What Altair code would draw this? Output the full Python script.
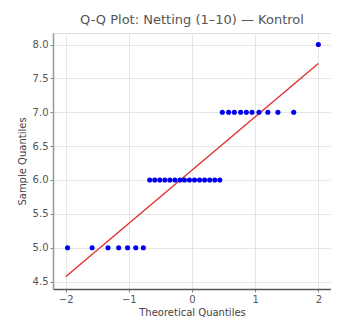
import altair as alt
import pandas as pd

# Theoretical quantiles and sample values
theo = [-1.97, -1.58, -1.33, -1.16, -1.02, -0.89, -0.77,
        -0.67, -0.59, -0.51, -0.43, -0.35, -0.27, -0.19, -0.12, -0.04, 0.04, 0.12, 0.20, 0.28, 0.36, 0.44,
        0.48, 0.58, 0.67, 0.77, 0.86, 0.95, 1.06, 1.20, 1.36, 1.61,
        2.00]
sample = [5]*7 + [6]*15 + [7]*10 + [8]
line_x = [-2.0, 2.0]
line_y = [4.57, 7.72]
x_ticks = [-2, -1, 0, 1, 2]
y_ticks = [4.5, 5.0, 5.5, 6.0, 6.5, 7.0, 7.5, 8.0]

pts = pd.DataFrame({"x": theo, "y": sample})
ln = pd.DataFrame({"x": line_x, "y": line_y})

font = "DejaVu Sans"
xs = alt.Scale(domain=[-2.2, 2.2], nice=False, zero=False)
ys = alt.Scale(domain=[4.39, 8.17], nice=False, zero=False)

def xax():
    return alt.Axis(title="Theoretical Quantiles", values=x_ticks, format="d",
                    grid=True, gridColor="#e6e6e6", domainColor="#555", domainWidth=1.5,
                    tickColor="#888", tickSize=3, labelColor="#555", labelFontSize=10,
                    titleColor="#444", titleFontSize=10, titleFontWeight="normal",
                    labelFont=font, titleFont=font, titlePadding=3, labelOverlap=False)

def yax():
    return alt.Axis(title="Sample Quantiles", values=y_ticks, format=".1f",
                    grid=True, gridColor="#e6e6e6", domainColor="#999", domainWidth=1.5,
                    tickColor="#888", tickSize=3, labelColor="#555", labelFontSize=10,
                    titleColor="#444", titleFontSize=10, titleFontWeight="normal",
                    labelFont=font, titleFont=font, titlePadding=5, labelOverlap=False)

points = alt.Chart(pts).mark_circle(color="#0000ee", size=26, opacity=1).encode(
    x=alt.X("x:Q", scale=xs, axis=xax()),
    y=alt.Y("y:Q", scale=ys, axis=yax()),
)
line = alt.Chart(ln).mark_line(color="#e03030", strokeWidth=1.4).encode(
    x=alt.X("x:Q", scale=xs, axis=xax()),
    y=alt.Y("y:Q", scale=ys, axis=yax()),
)

chart = alt.layer(line, points).properties(
    width=278, height=256,
    title=alt.TitleParams("Q-Q Plot: Netting (1–10) — Kontrol", font=font, fontSize=13,
                          fontWeight="normal", color="#555", anchor="middle", offset=6),
    padding={"left": 45, "top": 25, "right": 0, "bottom": 32},
    autosize="none",
).configure_view(stroke=None).configure(background="white")

chart.save("out.html", embed_options={"renderer": "svg", "actions": False})
